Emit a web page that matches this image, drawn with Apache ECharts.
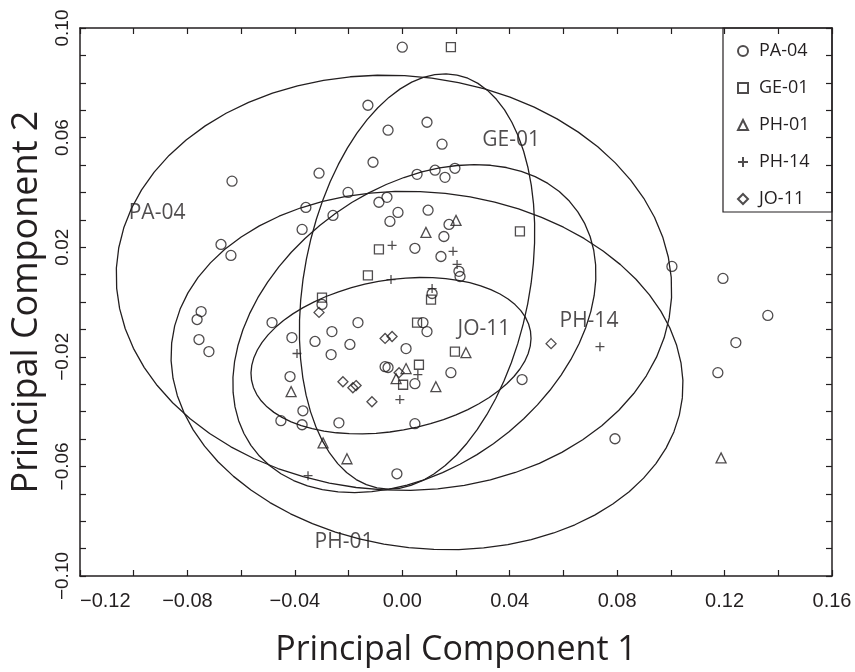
<!DOCTYPE html>
<html>
<head>
<meta charset="utf-8">
<script src="https://cdn.jsdelivr.net/npm/echarts@6/dist/echarts.min.js"></script>
<style>
  html, body { margin: 0; padding: 0; background: #fff; }
  #chart { width: 855px; height: 672px; }
</style>
</head>
<body>
<div id="chart"></div>
<script>
// scores on PC1 / PC2
var pa04 = [
  [0.000, 0.0930], [-0.0128, 0.0718], [0.0092, 0.0656], [-0.0053, 0.0627], [0.0148, 0.0576],
  [-0.0109, 0.0510], [-0.0310, 0.0470], [-0.0634, 0.0441], [0.0055, 0.0466], [0.0122, 0.0481],
  [0.0159, 0.0455], [0.0196, 0.0488], [-0.0202, 0.0400], [-0.0359, 0.0345], [-0.0258, 0.0316],
  [-0.0373, 0.0265], [-0.0087, 0.0364], [-0.0057, 0.0382], [-0.0016, 0.0327], [-0.0046, 0.0294],
  [0.0096, 0.0335], [0.0174, 0.0283], [0.0155, 0.0239], [0.0047, 0.0196], [0.0144, 0.0166],
  [0.0211, 0.0112], [0.0215, 0.0093], [-0.0675, 0.0210], [-0.0638, 0.0170], [0.1004, 0.0130],
  [0.1194, 0.0086], [0.1361, -0.0049], [0.1242, -0.0148], [0.1175, -0.0258], [0.0792, -0.0499],
  [-0.0749, -0.0035], [-0.0764, -0.0064], [-0.0757, -0.0137], [-0.0720, -0.0181], [-0.0485, -0.0075],
  [-0.0411, -0.0130], [-0.0325, -0.0144], [-0.0262, -0.0108], [-0.0165, -0.0075], [-0.0195, -0.0155],
  [-0.0265, -0.0192], [-0.0418, -0.0272], [-0.0370, -0.0397], [-0.0452, -0.0433], [-0.0373, -0.0448],
  [-0.0236, -0.0441], [-0.0299, -0.0009], [0.0111, 0.0031], [0.0077, -0.0075], [0.0092, -0.0108],
  [0.0014, -0.0170], [-0.0064, -0.0236], [-0.0053, -0.0239], [0.0047, -0.0298], [0.0181, -0.0258],
  [0.0446, -0.0283], [0.0047, -0.0444], [-0.0020, -0.0627]
];
var ge01 = [
  [0.0181, 0.0930], [0.0438, 0.0258], [-0.0087, 0.0192], [-0.0128, 0.0097], [-0.0299, 0.0016],
  [0.0107, 0.0009], [0.0055, -0.0075], [0.0196, -0.0181], [0.0062, -0.0229], [0.0003, -0.0302]
];
var ph01 = [
  [0.0200, 0.0298], [0.0088, 0.0254], [0.0237, -0.0185], [0.0014, -0.0243], [-0.0023, -0.0280],
  [0.0125, -0.0309], [-0.0414, -0.0327], [-0.0295, -0.0514], [-0.0206, -0.0572], [0.1187, -0.0569]
];
var ph14 = [
  [-0.0038, 0.0207], [0.0189, 0.0185], [0.0204, 0.0137], [-0.0042, 0.0082], [0.0111, 0.0049],
  [-0.0392, -0.0188], [0.0058, -0.0265], [-0.0009, -0.0356], [-0.0351, -0.0634], [0.0736, -0.0163]
];
var jo11 = [
  [-0.0310, -0.0038], [-0.0064, -0.0133], [-0.0038, -0.0126], [-0.0012, -0.0258], [-0.0113, -0.0364],
  [-0.0221, -0.0291], [-0.0184, -0.0313], [-0.0172, -0.0305], [0.0554, -0.0152]
];

// ellipses: centre x, centre y, semi-axis a, semi-axis b, rotation (deg)
var ellPA04 = [-0.0031, 0.0070, 0.1035, 0.0757, -3];
var ellGE01 = [0.0055, 0.0075, 0.0768, 0.0420, 78.8];
var ellPH01 = [0.0092, -0.0250, 0.0956, 0.0650, -6];
var ellPH14 = [0.0045, -0.0097, 0.0743, 0.0513, 35];
var ellJO11 = [-0.0042, -0.0196, 0.0527, 0.0275, 9.8];

// ellipse labels: x, y, text
var ellLabels = [
  [-0.0913, 0.0324, 'PA-04'],
  [0.0405, 0.0590, 'GE-01'],
  [0.0695, -0.0068, 'PH-14'],
  [0.0304, -0.0097, 'JO-11'],
  [-0.0217, -0.0876, 'PH-01']
];

var ink = '#231f20';
var txtFont = '"Open Sans", sans-serif';
var tickFont = '"Liberation Sans", sans-serif';

function outline(p) {
  var out = [];
  var th = p[4] * Math.PI / 180;
  for (var i = 0; i <= 64; i++) {
    var t = i / 64 * 2 * Math.PI;
    var ex = p[2] * Math.cos(t), ey = p[3] * Math.sin(t);
    out.push([p[0] + ex * Math.cos(th) - ey * Math.sin(th),
              p[1] + ex * Math.sin(th) + ey * Math.cos(th)]);
  }
  return out;
}

function pts(name, data, symbol, size) {
  return {
    name: name,
    type: 'scatter',
    data: data,
    symbol: symbol,
    symbolSize: size,
    itemStyle: { color: 'transparent', borderColor: ink, borderWidth: 1.3 },
    z: 4
  };
}

function ring(p) {
  return {
    type: 'line',
    data: outline(p),
    showSymbol: false,
    smooth: false,
    silent: true,
    lineStyle: { color: ink, width: 1.3 },
    z: 3
  };
}

function fmt(v) {
  var s = Math.abs(v).toFixed(2);
  return v < -1e-9 ? '\u2212' + s : s;
}

var chart = echarts.init(document.getElementById('chart'));

chart.setOption({
  animation: false,
  backgroundColor: '#fff',
  grid: { left: 80, right: 23, top: 28, bottom: 96, outerBoundsMode: 'none', containLabel: false },
  legend: {
    orient: 'vertical',
    left: 737,
    top: 42,
    itemWidth: 10,
    itemHeight: 10,
    itemGap: 19,
    padding: 0,
    data: ['PA-04', 'GE-01', 'PH-01', 'PH-14', 'JO-11'],
    textStyle: { fontFamily: txtFont, fontSize: 18, color: ink, padding: [0, 0, 0, 6] }
  },
  graphic: [{
    type: 'rect',
    shape: { x: 723, y: 28, width: 109, height: 184 },
    style: { fill: 'none', stroke: ink, lineWidth: 1.2 },
    z: 10
  }],
  xAxis: [{
    type: 'value',
    min: -0.12, max: 0.16, interval: 0.02,
    name: 'Principal Component 1',
    nameLocation: 'middle',
    nameGap: 57,
    nameTextStyle: { fontFamily: txtFont, fontSize: 34, color: ink },
    axisLine: { onZero: false, lineStyle: { color: ink, width: 1.5 } },
    axisTick: { inside: true, length: 6, lineStyle: { color: ink, width: 1.2 } },
    axisLabel: {
      margin: 15, fontFamily: tickFont, fontSize: 20, color: ink,
      alignMinLabel: 'left',
      formatter: function (v) {
        var k = Math.round(v * 100);
        return (((k % 4) + 4) % 4 === 0) ? fmt(v) : '';
      }
    },
    splitLine: { show: false }
  }, {
    type: 'value', position: 'top',
    min: -0.12, max: 0.16, interval: 0.02,
    axisLine: { onZero: false, lineStyle: { color: ink, width: 1.5 } },
    axisTick: { inside: true, length: 6, lineStyle: { color: ink, width: 1.2 } },
    axisLabel: { show: false },
    splitLine: { show: false }
  }],
  yAxis: [{
    type: 'value',
    min: -0.10, max: 0.10, interval: 0.01,
    name: 'Principal Component 2',
    nameLocation: 'middle',
    nameGap: 30,
    nameTextStyle: { fontFamily: txtFont, fontSize: 36, color: ink },
    axisLine: { onZero: false, lineStyle: { color: ink, width: 1.5 } },
    axisTick: { inside: true, length: 6, lineStyle: { color: ink, width: 1.2 } },
    axisLabel: {
      rotate: 90, margin: 8, fontFamily: tickFont, fontSize: 19, color: ink,
      formatter: function (v) {
        var k = Math.round(v * 100);
        return (((k % 4) + 4) % 4 === 2) ? fmt(v) : '';
      }
    },
    splitLine: { show: false }
  }, {
    type: 'value', position: 'right',
    min: -0.10, max: 0.10, interval: 0.01,
    axisLine: { onZero: false, lineStyle: { color: ink, width: 1.5 } },
    axisTick: { inside: true, length: 6, lineStyle: { color: ink, width: 1.2 } },
    axisLabel: { show: false },
    splitLine: { show: false }
  }],
  series: [
    ring(ellPA04), ring(ellGE01), ring(ellPH01), ring(ellPH14), ring(ellJO11),
    pts('PA-04', pa04, 'circle', 10),
    pts('GE-01', ge01, 'rect', 9),
    pts('PH-01', ph01, 'triangle', 10),
    pts('PH-14', ph14, 'path://M0,5L10,5M5,0L5,10', 9),
    pts('JO-11', jo11, 'diamond', 10),
    {
      type: 'scatter',
      data: ellLabels,
      symbolSize: 1,
      silent: true,
      itemStyle: { color: 'transparent' },
      label: {
        show: true, position: 'inside',
        fontFamily: txtFont, fontSize: 21, color: ink,
        formatter: function (p) { return p.data[2]; }
      },
      z: 5
    }
  ]
});
</script>
</body>
</html>
